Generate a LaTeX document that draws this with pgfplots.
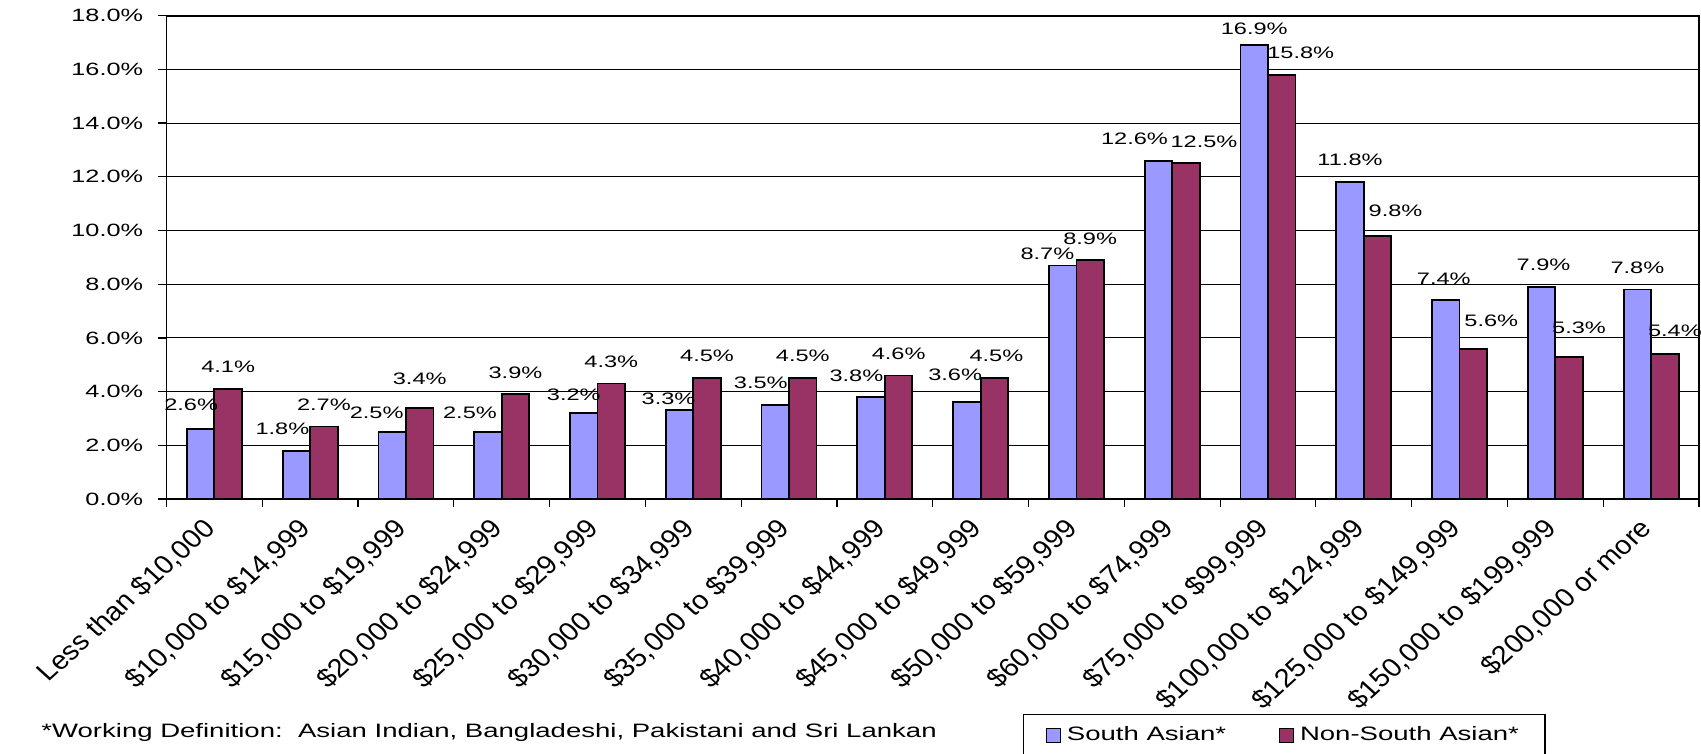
\documentclass[border=0pt]{standalone}
\usepackage{fontspec}
\setmainfont{Liberation Sans}[FakeStretch=1.42]
\newfontfamily\xlabfont{Liberation Sans}
\usepackage{pgfplots}
\usepackage{pgfplotstable}
\pgfplotsset{compat=1.18}
\definecolor{sablue}{HTML}{9999FF}
\definecolor{nsapurple}{HTML}{993366}

\pgfplotstableread{
x y
0 2.6
1 1.8
2 2.5
3 2.5
4 3.2
5 3.3
6 3.5
7 3.8
8 3.6
9 8.7
10 12.6
11 16.9
12 11.8
13 7.4
14 7.9
15 7.8
}\southasian

\pgfplotstableread{
x y
0 4.1
1 2.7
2 3.4
3 3.9
4 4.3
5 4.5
6 4.5
7 4.6
8 4.5
9 8.9
10 12.5
11 15.8
12 9.8
13 5.6
14 5.3
15 5.4
}\nonsouthasian

\pgfplotsset{
  lab/.style n args={3}{coordinate style/.condition={\coordindex==#1}{xshift=#2bp, yshift=#3bp}},
}

\begin{document}
\begin{tikzpicture}
\begin{axis}[
  scale only axis,
  width=766.25bp, height=241.65bp,
  xmin=-0.5, xmax=15.5,
  ymin=0, ymax=18,
  enlargelimits=false,
  ybar=0pt, bar width=13.75bp,
  xtick={-0.5,0.5,...,15.5},
  xticklabels={Less than \$10{,}000, \$10{,}000 to \$14{,}999, \$15{,}000 to \$19{,}999, \$20{,}000 to \$24{,}999, \$25{,}000 to \$29{,}999, \$30{,}000 to \$34{,}999, \$35{,}000 to \$39{,}999, \$40{,}000 to \$44{,}999, \$45{,}000 to \$49{,}999, \$50{,}000 to \$59{,}999, \$60{,}000 to \$74{,}999, \$75{,}000 to \$99{,}999, \$100{,}000 to \$124{,}999, \$125{,}000 to \$149{,}999, \$150{,}000 to \$199{,}999, \$200{,}000 or more, {}},
  ytick={0,2,...,18},
  yticklabel={\pgfmathprintnumber[fixed,fixed zerofill,precision=1]{\tick}\%},
  /pgf/number format/assume math mode=true,
  tick align=outside,
  xtick pos=left, ytick pos=left,
  major tick length=4bp,
  ymajorgrids,
  grid style={black, line width=0.5bp},
  axis line style={black, line width=0.9bp},
  tick style={black, line width=0.6bp},
  yticklabel style={font=\fontsize{8.9bp}{10bp}\selectfont, inner sep=0pt, xshift=-7.5bp},
  xticklabel style={font=\xlabfont\fontsize{13.1bp}{15bp}\selectfont, inner sep=0pt, anchor=north east, xshift=17.5bp, yshift=-4.5bp, xscale=1.1, rotate=45},
  legend columns=2,
  legend style={at={(axis description cs:0.559,-0.4451)}, anchor=north west, draw=black, line width=0.6bp, font=\fontsize{9.7bp}{11bp}\selectfont, inner xsep=11bp, inner ysep=4bp, /tikz/every even column/.append style={column sep=24.3bp}, /tikz/every odd column/.append style={column sep=1bp}},
  legend image code/.code={\draw[#1, line width=0.6bp] (0bp,-3.5bp) rectangle (7bp,3.5bp);},
  nodes near coords={\pgfmathprintnumber[fixed,fixed zerofill,precision=1]{\pgfplotspointmeta}\%},
  every node near coord/.append style={font=\fontsize{8.3bp}{10bp}\selectfont, text=black, anchor=center, inner sep=0pt},
]
\addplot[fill=sablue, draw=black, line width=0.9bp, point meta=y,
  lab={0}{-4.75}{12}, lab={1}{-7}{11}, lab={2}{-7.75}{9.5}, lab={3}{-9}{9.5},
  lab={4}{-5}{9}, lab={5}{-5.5}{5.6}, lab={6}{-7.25}{11.35}, lab={7}{-7.35}{10.5},
  lab={8}{-5.85}{13.85}, lab={9}{-7.65}{5.6}, lab={10}{-12}{11.15}, lab={11}{0}{8},
  lab={12}{0}{11}, lab={13}{-1}{11}, lab={14}{1}{11}, lab={15}{0}{11}]
  table[x=x, y=y] {\southasian};
\addlegendentry{South Asian*}
\addplot[fill=nsapurple, draw=black, line width=0.9bp, point meta=y,
  lab={0}{0}{11}, lab={1}{0}{11}, lab={2}{0}{14.5}, lab={3}{0}{11},
  lab={4}{0}{11}, lab={5}{0}{11.3}, lab={6}{0}{11.3}, lab={7}{0}{10.85},
  lab={8}{1}{11.35}, lab={9}{0}{10.85}, lab={10}{9}{11}, lab={11}{9.5}{11},
  lab={12}{9}{12.5}, lab={13}{9}{14}, lab={14}{5}{14.5}, lab={15}{5}{11.5}]
  table[x=x, y=y] {\nonsouthasian};
\addlegendentry{Non-South Asian*}
\coordinate (SW) at (rel axis cs:0,0);
\coordinate (NE) at (rel axis cs:1,1);
\end{axis}
\node[anchor=base west, font=\fontsize{9.7bp}{11bp}\selectfont, inner sep=0pt] at ([xshift=-62.75bp, yshift=-119bp]SW) {*Working Definition:\ \ Asian Indian, Bangladeshi, Pakistani and Sri Lankan};
\pgfresetboundingbox
\path ([shift={(-83.25bp,-127.5bp)}]SW) rectangle ([shift={(1bp,7.85bp)}]NE);
\end{tikzpicture}
\end{document}
